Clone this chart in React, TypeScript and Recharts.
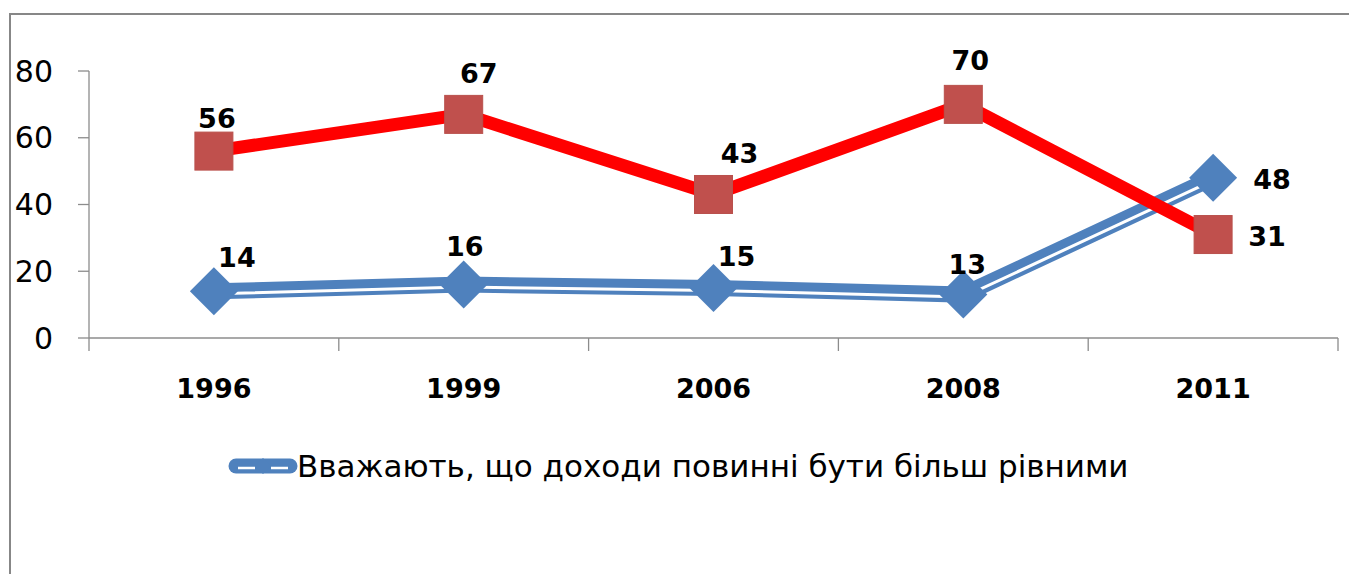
import React from 'react';
import { LineChart, Line, XAxis, YAxis } from 'recharts';

const years = ['1996', '1999', '2006', '2008', '2011'];
const equalIncomes = [14, 16, 15, 13, 48];
const unequalIncomes = [56, 67, 43, 70, 31];
const yTicks = [0, 20, 40, 60, 80];
const legendLabel = 'Вважають, що доходи повинні бути більш рівними';

const data = years.map((year, i) => ({
  year,
  blue: equalIncomes[i],
  red: unequalIncomes[i],
}));

// label nudges, in px, relative to each marker
const blueLabelShift = [[23, -34], [1, -38], [23, -31], [4, -30], [59, 2]];
const redLabelShift = [[3, -33], [15, -41], [26, -41], [7, -44], [54, 2]];

const W = 1349;
const H = 574;
const margin = { top: 71, right: 11, left: 0, bottom: 176 };
const yAxisW = 89;
const bandW = (W - margin.left - margin.right - yAxisW) / years.length;

const FONT = '"DejaVu Sans", sans-serif';
const BLUE = '#4F81BD';
const axisGray = '#8c8c8c';

const CategoryTick = ({ x, y, payload, index }: any) => (
  <g>
    <line x1={x - bandW / 2} y1={y} x2={x - bandW / 2} y2={y + 13} stroke={axisGray} strokeWidth={1.3} />
    {index === years.length - 1 && (
      <line x1={x + bandW / 2} y1={y} x2={x + bandW / 2} y2={y + 13} stroke={axisGray} strokeWidth={1.3} />
    )}
    <text x={x} y={y + 50} textAnchor="middle" dominantBaseline="central" fontFamily={FONT} fontWeight="bold" fontSize={27} fill="#000">
      {payload.value}
    </text>
  </g>
);

const Diamond = ({ cx, cy, index }: any) => (
  <path key={`d-${index}`} d={`M${cx},${cy - 24} L${cx + 24},${cy} L${cx},${cy + 24} L${cx - 24},${cy} Z`} fill={BLUE} />
);

const Square = ({ cx, cy, index }: any) => (
  <rect key={`s-${index}`} x={cx - 19} y={cy - 19} width={38} height={38} fill="#C0504D" stroke="#B9504C" strokeWidth={1} />
);

const makeLabel = (shifts: number[][]) => ({ x, y, value, index }: any) => (
  <text
    key={`l-${index}`}
    x={x + shifts[index][0]}
    y={y + shifts[index][1]}
    textAnchor="middle"
    dominantBaseline="central"
    fontFamily={FONT}
    fontWeight="bold"
    fontSize={27}
    fill="#000"
  >
    {value}
  </text>
);

const LegendIcon = () => (
  <svg width={70} height={18} style={{ display: 'block' }}>
    <line x1={8} y1={9} x2={62} y2={9} stroke={BLUE} strokeWidth={15} strokeLinecap="round" />
    <line x1={10} y1={11} x2={27} y2={11} stroke="#fff" strokeWidth={2.5} />
    <line x1={43} y1={11} x2={60} y2={11} stroke="#fff" strokeWidth={2.5} />
    <path d="M35,1 L43,9 L35,17 L27,9 Z" fill={BLUE} />
  </svg>
);

export default function App() {
  return (
    <div style={{ position: 'relative', width: W, height: H, overflow: 'hidden', background: '#fff' }}>
      <style>{`body{margin:0} .blue-stripe{transform:translate(0px,2.5px)}`}</style>
      <div
        style={{
          position: 'absolute',
          left: 9,
          top: 13,
          width: W + 40,
          height: H + 40,
          border: '2.5px solid #878787',
          boxSizing: 'border-box',
        }}
      />
      <div style={{ position: 'absolute', left: 0, top: 0 }}>
        <LineChart width={W} height={H} data={data} margin={margin}>
          <XAxis
            dataKey="year"
            scale="band"
            height={60}
            tickSize={0}
            tickLine={false}
            tickMargin={0}
            axisLine={{ stroke: axisGray, strokeWidth: 1.3 }}
            tick={<CategoryTick />}
            interval={0}
          />
          <YAxis
            type="number"
            domain={[0, 80]}
            ticks={yTicks}
            width={yAxisW}
            tickSize={11}
            tickMargin={25}
            axisLine={{ stroke: axisGray, strokeWidth: 1.3 }}
            tickLine={{ stroke: axisGray, strokeWidth: 1.3 }}
            tick={{ fontFamily: FONT, fontSize: 30, fill: '#000' }}
          />
          <Line dataKey="blue" stroke={BLUE} strokeWidth={16} dot={false} activeDot={false} isAnimationActive={false} />
          <Line dataKey="blue" className="blue-stripe" stroke="#fff" strokeWidth={3} dot={false} activeDot={false} isAnimationActive={false} />
          <Line
            dataKey="blue"
            stroke="none"
            dot={Diamond}
            activeDot={false}
            label={makeLabel(blueLabelShift)}
            isAnimationActive={false}
          />
          <Line
            dataKey="red"
            stroke="#FF0000"
            strokeWidth={13}
            dot={Square}
            activeDot={false}
            label={makeLabel(redLabelShift)}
            isAnimationActive={false}
          />
        </LineChart>
      </div>
      <div
        style={{
          position: 'absolute',
          left: 228,
          top: 448,
          display: 'flex',
          alignItems: 'center',
          fontFamily: FONT,
          fontSize: 31,
          color: '#000',
          whiteSpace: 'nowrap',
        }}
      >
        <LegendIcon />
        <span style={{ marginLeft: -1 }}>{legendLabel}</span>
      </div>
    </div>
  );
}
